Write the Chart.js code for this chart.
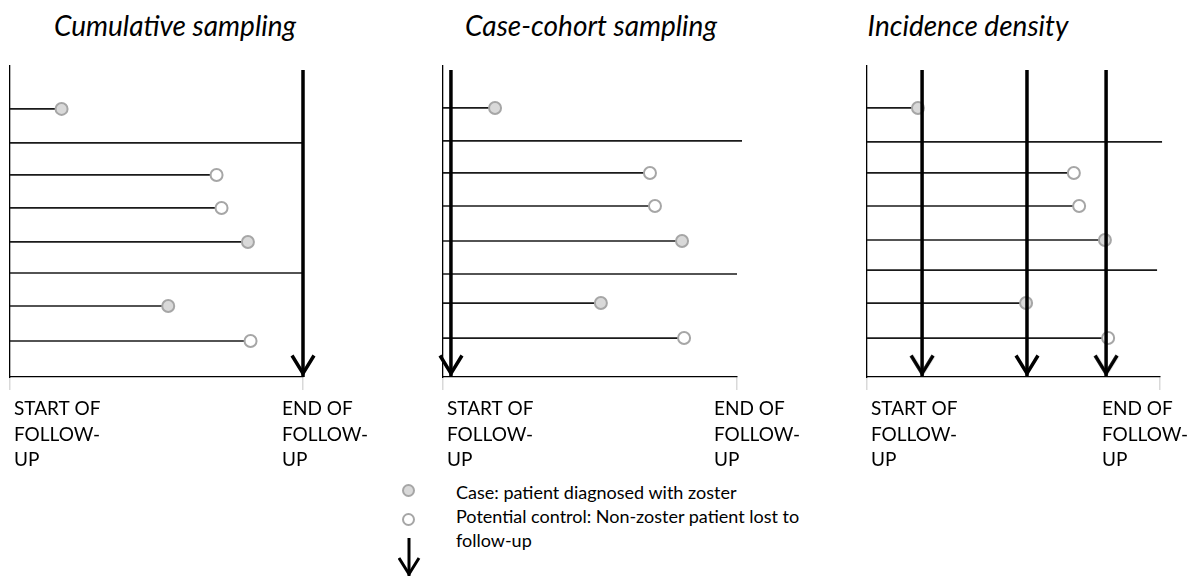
<!DOCTYPE html>
<html>
<head>
<meta charset="utf-8">
<script src="https://cdn.jsdelivr.net/npm/chart.js@4.4.1/dist/chart.umd.min.js"></script>
<style>
  body { margin: 0; background: #fff; }
  #page { position: relative; width: 1195px; height: 576px; overflow: hidden; font-family: Lato, sans-serif; color: #000; }
  #page canvas { position: absolute; top: 0; }
  .title { position: absolute; top: 11px; font-size: 28px; line-height: 28px; font-style: italic; white-space: nowrap; transform: translateX(-50%); }
  .dot { position: absolute; left: 402px; width: 9px; height: 9px; border: 2px solid #a6a6a6; border-radius: 50%; }
  .keytext { position: absolute; left: 456px; top: 480px; font-size: 18px; line-height: 24px; white-space: nowrap; }
</style>
</head>
<body>
<div id="page">
  <div class="title" style="left:175px">Cumulative sampling</div>
  <div class="title" style="left:591px">Case-cohort sampling</div>
  <div class="title" style="left:968px">Incidence density</div>

  <canvas id="cumChart" width="400" height="480" style="left:0px"></canvas>
  <canvas id="cohortChart" width="430" height="480" style="left:400px"></canvas>
  <canvas id="densityChart" width="365" height="480" style="left:830px"></canvas>

  <span class="dot" style="top:484px; background:#d9d9d9"></span>
  <span class="dot" style="top:513px; background:#fff"></span>
  <svg style="position:absolute; left:398px; top:536px" width="24" height="42">
    <line x1="11" y1="2" x2="11" y2="40" stroke="#000" stroke-width="3"/>
    <polyline points="1,22 11,38 21,22" fill="none" stroke="#000" stroke-width="3"/>
  </svg>
  <div class="keytext">Case: patient diagnosed with zoster<br>Potential control: Non-zoster patient lost to<br>follow-up</div>
</div>

<script>
// patients, top row first. end = where the follow-up line stops (% of follow-up)
var outcome = ['case', 'none', 'control', 'control', 'case', 'none', 'case', 'control'];

var cumEnd = [17.6, 100, 70.5, 72.2, 81.2, 100, 54, 82.1];
var cumRow = [1.0, 2.03, 3.0, 4.0, 5.03, 5.97, 6.97, 8.03];
var cumArrows = [100];

var cohortEnd = [17.7, 101.7, 70.4, 72.1, 81.3, 100, 53.7, 82];
var cohortRow = [0.97, 1.97, 2.94, 3.94, 5.0, 6.0, 6.88, 7.94];
var cohortArrows = [2.7];

var densityEnd = [17.4, 100.7, 70.6, 72.4, 81.2, 99, 54.3, 82.3];
var densityRow = [0.97, 2.0, 2.94, 3.94, 4.97, 5.88, 6.88, 7.94];
var densityArrows = [18.8, 54.6, 81.6];

var startLabel = ['START OF', 'FOLLOW-', 'UP'];
var endLabel = ['END OF', 'FOLLOW-', 'UP'];

// arrow head as a point image, tip in the middle of the canvas
function makeArrowHead(half, len, width) {
    var c = document.createElement('canvas');
    c.width = half * 2 + 6;
    c.height = (len + 6) * 2;
    var g = c.getContext('2d');
    var cx = c.width / 2, cy = c.height / 2 - width;
    g.strokeStyle = '#000';
    g.lineWidth = width;
    g.beginPath();
    g.moveTo(cx - half, cy - len);
    g.lineTo(cx, cy);
    g.lineTo(cx + half, cy - len);
    g.stroke();
    return c;
}
var arrowHead = makeArrowHead(11, 18, 3.5);

// START / END OF FOLLOW-UP under the axis ends
var followLabels = {
    id: 'followLabels',
    afterDraw: function(chart, args, opts) {
        var sx = chart.scales.x;
        var ctx = chart.ctx;
        ctx.save();
        ctx.font = '19px Lato';
        ctx.fillStyle = '#000';
        ctx.textBaseline = 'alphabetic';
        var x0 = sx.getPixelForValue(0) + opts.startDx;
        var x1 = sx.getPixelForValue(100) + opts.endDx;
        for (var i = 0; i < 3; i++) {
            ctx.fillText(startLabel[i], x0, sx.top + 38 + i * 25.5);
            ctx.fillText(endLabel[i], x1, sx.top + 38 + i * 25.5);
        }
        ctx.restore();
    }
};

function makePanel(id, ends, rows, arrows, pad, endDx) {
    var datasets = [];
    for (var i = 0; i < rows.length; i++) {
        datasets.push({
            data: [{x: 0, y: rows[i]}, {x: ends[i], y: rows[i]}],
            showLine: true,
            borderColor: '#1a1a1a',
            borderWidth: 1.7,
            pointRadius: 0,
            clip: false,
            order: 2
        });
    }
    var cases = [], controls = [];
    for (var j = 0; j < rows.length; j++) {
        if (outcome[j] == 'case') cases.push({x: ends[j], y: rows[j]});
        if (outcome[j] == 'control') controls.push({x: ends[j], y: rows[j]});
    }
    datasets.push({
        data: cases,
        pointRadius: 6,
        pointBorderWidth: 2,
        pointBackgroundColor: '#d9d9d9',
        pointBorderColor: '#a6a6a6',
        clip: false,
        order: 1
    });
    datasets.push({
        data: controls,
        pointRadius: 6,
        pointBorderWidth: 2,
        pointBackgroundColor: '#ffffff',
        pointBorderColor: '#a6a6a6',
        clip: false,
        order: 1
    });
    arrows.forEach(function(a) {
        datasets.push({
            data: [{x: a, y: -0.18}, {x: a, y: 9.12}],
            showLine: true,
            borderColor: '#000',
            borderWidth: 3.5,
            pointRadius: [0, 1],
            pointStyle: arrowHead,
            clip: false,
            order: 0
        });
    });

    return new Chart(document.getElementById(id), {
        type: 'scatter',
        data: { datasets: datasets },
        options: {
            responsive: false,
            animation: false,
            events: [],
            layout: { padding: pad },
            plugins: {
                legend: { display: false },
                tooltip: { enabled: false },
                followLabels: { startDx: 4, endDx: endDx }
            },
            scales: {
                x: {
                    type: 'linear',
                    min: 0,
                    max: 100,
                    afterBuildTicks: function(s) { s.ticks = [{value: 0}, {value: 100}]; },
                    afterFit: function(s) { s.height = 103; },
                    ticks: { display: false },
                    grid: { drawOnChartArea: false, tickLength: 13, color: '#d9d9d9', lineWidth: 1.5 },
                    border: { color: '#000', width: 1.3 }
                },
                y: {
                    type: 'linear',
                    min: -0.3,
                    max: 9.12,
                    reverse: true,
                    afterFit: function(s) { s.width = 0; },
                    ticks: { display: false },
                    grid: { drawOnChartArea: false, drawTicks: false },
                    border: { color: '#000', width: 1.3 }
                }
            }
        },
        plugins: [followLabels]
    });
}

makePanel('cumChart', cumEnd, cumRow, cumArrows, {left: 10, top: 66, right: 97, bottom: 0}, -21);
makePanel('cohortChart', cohortEnd, cohortRow, cohortArrows, {left: 43, top: 66, right: 93, bottom: 0}, -23);
makePanel('densityChart', densityEnd, densityRow, densityArrows, {left: 37, top: 66, right: 35, bottom: 0}, -58);
</script>
</body>
</html>
